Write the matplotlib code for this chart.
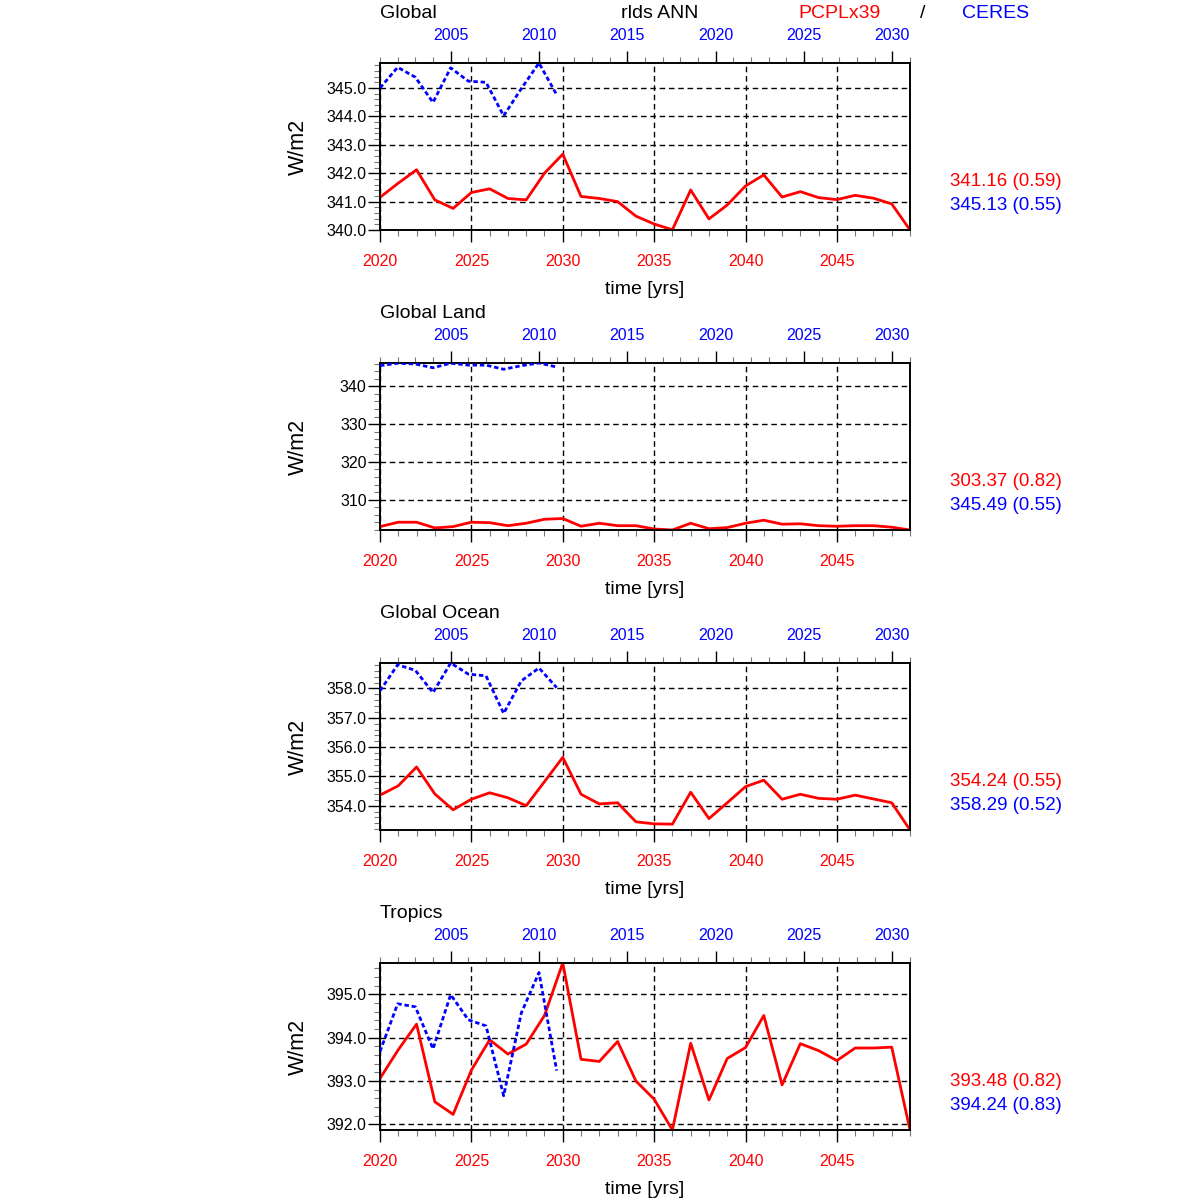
import numpy as np
import matplotlib
matplotlib.use("Agg")
import matplotlib.pyplot as plt
from matplotlib.ticker import MultipleLocator, FormatStrFormatter

plt.rcParams['font.family'] = ['Liberation Sans', 'DejaVu Sans']

# model years (bottom axis) and obs years (top axis)
model_years = list(range(2020, 2050))
obs_years = list(range(2001, 2012))

regions = ["Global", "Global Land", "Global Ocean", "Tropics"]

# PCPLx39 (red)
model_global = [341.15, 341.65, 342.12, 341.06, 340.76, 341.32, 341.45, 341.11, 341.06, 342.0,
                342.67, 341.18, 341.11, 341.0, 340.49, 340.21, 340.01, 341.41, 340.39, 340.88,
                341.55, 341.94, 341.16, 341.35, 341.14, 341.07, 341.22, 341.12, 340.92, 340.0]
model_land = [302.86, 304.02, 304.02, 302.5, 302.86, 304.02, 303.9, 303.1, 303.75, 304.8,
              305.0, 302.95, 303.75, 303.1, 303.1, 302.23, 301.96, 303.75, 302.3, 302.6,
              303.75, 304.55, 303.5, 303.6, 303.1, 302.95, 303.1, 303.1, 302.7, 301.96]
model_ocean = [354.36, 354.68, 355.32, 354.40, 353.86, 354.22, 354.44, 354.27, 354.0, 354.82,
               355.65, 354.39, 354.06, 354.1, 353.45, 353.38, 353.37, 354.46, 353.56, 354.1,
               354.65, 354.87, 354.22, 354.39, 354.25, 354.22, 354.36, 354.23, 354.1, 353.17]
model_tropics = [393.06, 393.72, 394.31, 392.52, 392.23, 393.25, 393.95, 393.62, 393.85, 394.51,
                 395.72, 393.5, 393.45, 393.91, 393.0, 392.58, 391.87, 393.87, 392.56, 393.52,
                 393.77, 394.51, 392.91, 393.86, 393.7, 393.47, 393.76, 393.76, 393.78, 391.87]

# CERES (blue)
obs_global = [345.0, 345.73, 345.38, 344.49, 345.71, 345.24, 345.2, 344.02, 344.98, 345.88, 344.76]
obs_land = [345.45, 346.1, 345.9, 344.9, 346.1, 345.6, 345.6, 344.5, 345.45, 346.16, 345.1]
obs_ocean = [357.92, 358.81, 358.62, 357.86, 358.87, 358.49, 358.43, 357.15, 358.26, 358.7, 358.03]
obs_tropics = [393.68, 394.78, 394.71, 393.74, 394.99, 394.41, 394.27, 392.66, 394.57, 395.5, 393.24]

model_series = [model_global, model_land, model_ocean, model_tropics]
obs_series = [obs_global, obs_land, obs_ocean, obs_tropics]

model_stats = ["341.16 (0.59)", "303.37 (0.82)", "354.24 (0.55)", "393.48 (0.82)"]
obs_stats = ["345.13 (0.55)", "345.49 (0.55)", "358.29 (0.52)", "394.24 (0.83)"]

y_major = [1.0, 10.0, 1.0, 1.0]
y_fmt = ["%.1f", "%d", "%.1f", "%.1f"]

fig = plt.figure(figsize=(12, 12), dpi=100)

H = 1200.0
for k in range(4):
    top_px = 63 + 300 * k
    bot_px = 230 + 300 * k
    ax = fig.add_axes([380 / H, 1 - bot_px / H, 530 / H, (bot_px - top_px) / H])
    ax2 = ax.twiny()

    red = model_series[k]
    blue = obs_series[k]
    ax.plot(model_years, red, color='red', lw=2.0, zorder=3)
    ax2.plot(obs_years, blue, color='blue', lw=2.0, linestyle=(0, (1.6, 1.0)), zorder=3)

    ax.set_xlim(2020, 2049)
    ax2.set_xlim(2001, 2031)
    lo = min(min(red), min(blue))
    hi = max(max(red), max(blue))
    ax.set_ylim(lo, hi)

    ax.xaxis.set_major_locator(MultipleLocator(5))
    ax.xaxis.set_minor_locator(MultipleLocator(1))
    ax2.xaxis.set_major_locator(MultipleLocator(5))
    ax2.xaxis.set_minor_locator(MultipleLocator(1))
    ax.yaxis.set_major_locator(MultipleLocator(y_major[k]))
    ax.yaxis.set_minor_locator(MultipleLocator(y_major[k] / 5))
    ax.yaxis.set_major_formatter(FormatStrFormatter(y_fmt[k]))

    ax.tick_params(axis='x', which='major', direction='out', length=8.6, width=1.0,
                   labelsize=11.5, labelcolor='red', pad=8.5, top=False)
    ax.tick_params(axis='x', which='minor', direction='out', length=4.5, width=0.8,
                   color='#777777', top=False)
    ax.tick_params(axis='y', which='major', direction='out', length=8.6, width=1.0,
                   labelsize=11.5, pad=1, right=False)
    ax.tick_params(axis='y', which='minor', direction='out', length=4.5, width=0.8,
                   color='#777777', right=False)
    ax2.tick_params(axis='x', which='major', direction='out', length=8.6, width=1.0,
                    labelsize=11.5, labelcolor='blue', pad=6.0)
    ax2.tick_params(axis='x', which='minor', direction='out', length=4.5, width=0.8,
                    color='#777777')

    ax.grid(True, which='major', color='black', lw=1.0, linestyle=(0, (4, 2.7)))
    ax2.grid(False)
    for a in (ax, ax2):
        for s in a.spines.values():
            s.set_linewidth(1.2)

    ax.text(0, 1 + 49 / 167, regions[k], transform=ax.transAxes, ha='left',
            va='center', fontsize=14)
    ax.text(-82 / 530, 0.5, "W/m2", transform=ax.transAxes, rotation=90,
            ha='center', va='center', fontsize=15.5)
    ax.text(0.5, -59 / 167, "time [yrs]", transform=ax.transAxes, ha='center',
            va='center', fontsize=14)
    ax.text(570 / 530, 49 / 167, model_stats[k], transform=ax.transAxes,
            ha='left', va='center', fontsize=13.5, color='red')
    ax.text(570 / 530, 25 / 167, obs_stats[k], transform=ax.transAxes,
            ha='left', va='center', fontsize=13.5, color='blue')

fig.text(660 / H, 1 - 14 / H, "rlds ANN", ha='center', va='center', fontsize=14)
fig.text(840 / H, 1 - 14 / H, "PCPLx39", ha='center', va='center', fontsize=14, color='red')
fig.text(923 / H, 1 - 14 / H, "/", ha='center', va='center', fontsize=14)
fig.text(996 / H, 1 - 14 / H, "CERES", ha='center', va='center', fontsize=14, color='blue')

fig.savefig("out.png", dpi=100)
